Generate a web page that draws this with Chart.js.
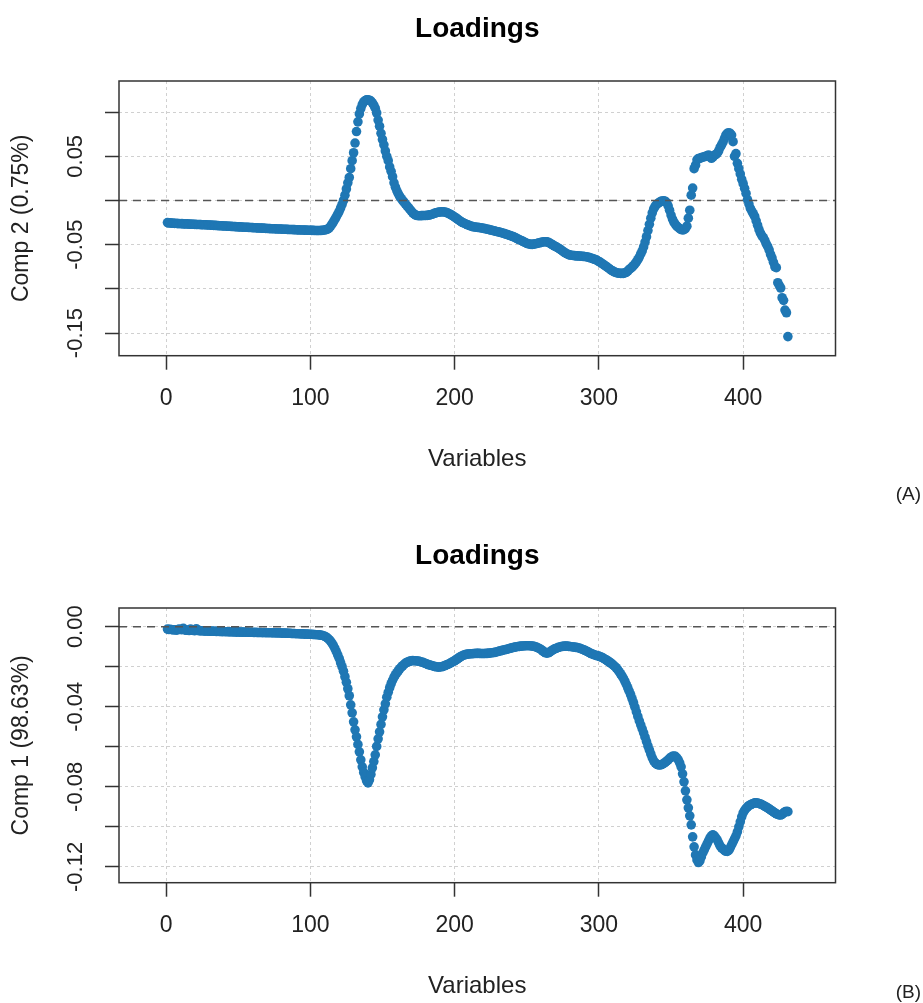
<!DOCTYPE html>
<html>
<head>
<meta charset="utf-8">
<script src="https://cdn.jsdelivr.net/npm/chart.js@4.4.0/dist/chart.umd.min.js"></script>
<style>
body { margin: 0; background: #fff; overflow: hidden; font-family: "Liberation Sans", Arial, sans-serif; }
.panel { position: absolute; left: 0; width: 923px; }
.tag { position: absolute; right: 2px; font-size: 19px; line-height: 22px; color: #222; }
</style>
</head>
<body>
<div class="panel" style="top:0;height:527px"><canvas id="chartA" width="923" height="527"></canvas></div>
<div class="tag" style="top:483px">(A)</div>
<div class="panel" style="top:527px;height:476px"><canvas id="chartB" width="923" height="476"></canvas></div>
<div class="tag" style="top:981px">(B)</div>
<script>
// loadings per variable (variable 1..431)
var comp2 = [
  -0.0250,-0.0255,-0.0252,-0.0258,-0.0256,-0.0260,-0.0258,-0.0262,-0.0260,-0.0263,
  -0.0262,-0.0265,-0.0264,-0.0266,-0.0265,-0.0268,-0.0267,-0.0269,-0.0268,-0.0270,
  -0.0271,-0.0272,-0.0271,-0.0273,-0.0274,-0.0275,-0.0274,-0.0276,-0.0277,-0.0278,
  -0.0279,-0.0280,-0.0281,-0.0282,-0.0283,-0.0284,-0.0285,-0.0286,-0.0287,-0.0288,
  -0.0289,-0.0290,-0.0291,-0.0292,-0.0293,-0.0294,-0.0295,-0.0296,-0.0297,-0.0298,
  -0.0299,-0.0300,-0.0301,-0.0302,-0.0302,-0.0303,-0.0304,-0.0305,-0.0306,-0.0307,
  -0.0308,-0.0309,-0.0310,-0.0311,-0.0312,-0.0313,-0.0313,-0.0314,-0.0315,-0.0316,
  -0.0317,-0.0318,-0.0319,-0.0319,-0.0320,-0.0321,-0.0322,-0.0322,-0.0323,-0.0324,
  -0.0325,-0.0325,-0.0326,-0.0327,-0.0328,-0.0328,-0.0329,-0.0330,-0.0330,-0.0331,
  -0.0332,-0.0332,-0.0333,-0.0334,-0.0334,-0.0335,-0.0335,-0.0336,-0.0337,-0.0337,
  -0.0338,-0.0338,-0.0339,-0.0340,-0.0340,-0.0340,-0.0339,-0.0338,-0.0336,-0.0333,
  -0.0330,-0.0325,-0.0312,-0.0292,-0.0268,-0.0242,-0.0214,-0.0185,-0.0155,-0.0122,
  -0.0085,-0.0045,0.0000,0.0060,0.0130,0.0200,0.0260,0.0360,0.0450,0.0540,
  0.0650,0.0780,0.0890,0.0980,0.1040,0.1085,0.1115,0.1130,0.1138,0.1140,
  0.1135,0.1125,0.1105,0.1080,0.1045,0.0990,0.0910,0.0840,0.0760,0.0690,
  0.0630,0.0560,0.0500,0.0450,0.0380,0.0330,0.0270,0.0200,0.0150,0.0110,
  0.0075,0.0045,0.0020,0.0000,-0.0020,-0.0040,-0.0060,-0.0080,-0.0100,-0.0120,
  -0.0140,-0.0155,-0.0165,-0.0170,-0.0172,-0.0172,-0.0171,-0.0170,-0.0170,-0.0169,
  -0.0168,-0.0166,-0.0163,-0.0158,-0.0152,-0.0146,-0.0140,-0.0135,-0.0132,-0.0130,
  -0.0128,-0.0128,-0.0130,-0.0134,-0.0140,-0.0148,-0.0157,-0.0166,-0.0176,-0.0186,
  -0.0198,-0.0210,-0.0222,-0.0234,-0.0244,-0.0252,-0.0260,-0.0268,-0.0275,-0.0282,
  -0.0288,-0.0293,-0.0297,-0.0300,-0.0302,-0.0304,-0.0306,-0.0309,-0.0312,-0.0315,
  -0.0318,-0.0322,-0.0326,-0.0330,-0.0334,-0.0338,-0.0342,-0.0346,-0.0350,-0.0354,
  -0.0358,-0.0362,-0.0367,-0.0372,-0.0377,-0.0382,-0.0388,-0.0394,-0.0400,-0.0406,
  -0.0412,-0.0420,-0.0428,-0.0436,-0.0444,-0.0452,-0.0460,-0.0468,-0.0476,-0.0484,
  -0.0490,-0.0494,-0.0496,-0.0496,-0.0494,-0.0490,-0.0486,-0.0482,-0.0478,-0.0474,
  -0.0470,-0.0467,-0.0466,-0.0468,-0.0474,-0.0482,-0.0492,-0.0502,-0.0512,-0.0521,
  -0.0530,-0.0540,-0.0550,-0.0562,-0.0574,-0.0586,-0.0596,-0.0605,-0.0612,-0.0617,
  -0.0620,-0.0622,-0.0624,-0.0626,-0.0627,-0.0628,-0.0629,-0.0630,-0.0632,-0.0634,
  -0.0636,-0.0639,-0.0643,-0.0648,-0.0653,-0.0659,-0.0665,-0.0671,-0.0680,-0.0690,
  -0.0700,-0.0711,-0.0722,-0.0733,-0.0745,-0.0757,-0.0769,-0.0781,-0.0792,-0.0802,
  -0.0810,-0.0816,-0.0820,-0.0823,-0.0825,-0.0825,-0.0824,-0.0820,-0.0812,-0.0800,
  -0.0780,-0.0768,-0.0754,-0.0738,-0.0718,-0.0695,-0.0670,-0.0640,-0.0605,-0.0570,
  -0.0525,-0.0470,-0.0410,-0.0340,-0.0270,-0.0200,-0.0140,-0.0095,-0.0065,-0.0045,
  -0.0032,-0.0020,-0.0010,-0.0005,-0.0004,-0.0008,-0.0025,-0.0060,-0.0110,-0.0165,
  -0.0210,-0.0245,-0.0270,-0.0290,-0.0305,-0.0318,-0.0328,-0.0332,-0.0330,-0.0318,
  -0.0290,-0.0200,-0.0110,0.0060,0.0140,0.0360,0.0400,0.0460,0.0475,0.0478,
  0.0485,0.0490,0.0495,0.0500,0.0505,0.0515,0.0500,0.0478,0.0490,0.0510,
  0.0520,0.0534,0.0560,0.0600,0.0628,0.0660,0.0700,0.0740,0.0760,0.0765,
  0.0760,0.0740,0.0665,0.0500,0.0530,0.0420,0.0360,0.0300,0.0240,0.0190,
  0.0138,0.0080,0.0010,-0.0040,-0.0090,-0.0120,-0.0150,-0.0180,-0.0230,-0.0280,
  -0.0330,-0.0370,-0.0400,-0.0420,-0.0450,-0.0490,-0.0520,-0.0560,-0.0610,-0.0650,
  -0.0700,-0.0750,-0.0760,-0.0930,-0.0960,-0.0990,-0.1100,-0.1130,-0.1240,-0.1270,-0.1540
];
var comp1 = [
  -0.0012,-0.0014,-0.0013,-0.0015,-0.0016,-0.0015,-0.0017,-0.0016,-0.0012,-0.0014,
  -0.0015,-0.0008,-0.0016,-0.0018,-0.0017,-0.0019,-0.0012,-0.0018,-0.0019,-0.0020,
  -0.0010,-0.0019,-0.0020,-0.0021,-0.0020,-0.0021,-0.0022,-0.0021,-0.0022,-0.0022,
  -0.0023,-0.0022,-0.0023,-0.0023,-0.0024,-0.0023,-0.0024,-0.0024,-0.0025,-0.0024,
  -0.0025,-0.0025,-0.0025,-0.0026,-0.0025,-0.0026,-0.0026,-0.0026,-0.0027,-0.0026,
  -0.0027,-0.0027,-0.0027,-0.0027,-0.0028,-0.0027,-0.0028,-0.0028,-0.0028,-0.0028,
  -0.0029,-0.0028,-0.0029,-0.0029,-0.0029,-0.0029,-0.0030,-0.0029,-0.0030,-0.0030,
  -0.0030,-0.0030,-0.0030,-0.0031,-0.0030,-0.0031,-0.0031,-0.0031,-0.0031,-0.0032,
  -0.0032,-0.0032,-0.0032,-0.0033,-0.0033,-0.0033,-0.0034,-0.0034,-0.0034,-0.0035,
  -0.0035,-0.0035,-0.0036,-0.0036,-0.0036,-0.0037,-0.0037,-0.0037,-0.0038,-0.0038,
  -0.0038,-0.0039,-0.0039,-0.0040,-0.0040,-0.0041,-0.0042,-0.0043,-0.0045,-0.0048,
  -0.0052,-0.0057,-0.0064,-0.0072,-0.0082,-0.0094,-0.0108,-0.0124,-0.0141,-0.0158,
  -0.0180,-0.0200,-0.0222,-0.0250,-0.0278,-0.0310,-0.0345,-0.0390,-0.0430,-0.0475,
  -0.0515,-0.0550,-0.0588,-0.0625,-0.0665,-0.0700,-0.0728,-0.0750,-0.0770,-0.0780,
  -0.0765,-0.0738,-0.0705,-0.0674,-0.0640,-0.0598,-0.0560,-0.0525,-0.0488,-0.0450,
  -0.0415,-0.0385,-0.0352,-0.0328,-0.0305,-0.0285,-0.0268,-0.0252,-0.0240,-0.0230,
  -0.0220,-0.0210,-0.0202,-0.0195,-0.0188,-0.0182,-0.0178,-0.0175,-0.0172,-0.0170,
  -0.0169,-0.0170,-0.0170,-0.0171,-0.0172,-0.0174,-0.0176,-0.0178,-0.0181,-0.0184,
  -0.0187,-0.0190,-0.0192,-0.0194,-0.0196,-0.0198,-0.0200,-0.0201,-0.0202,-0.0201,
  -0.0200,-0.0198,-0.0195,-0.0192,-0.0189,-0.0186,-0.0182,-0.0178,-0.0174,-0.0170,
  -0.0165,-0.0160,-0.0155,-0.0150,-0.0146,-0.0143,-0.0140,-0.0138,-0.0137,-0.0136,
  -0.0135,-0.0135,-0.0134,-0.0134,-0.0133,-0.0133,-0.0133,-0.0134,-0.0134,-0.0134,
  -0.0134,-0.0133,-0.0133,-0.0132,-0.0131,-0.0130,-0.0129,-0.0128,-0.0126,-0.0124,
  -0.0122,-0.0120,-0.0118,-0.0116,-0.0115,-0.0113,-0.0111,-0.0109,-0.0107,-0.0105,
  -0.0103,-0.0102,-0.0100,-0.0099,-0.0098,-0.0097,-0.0096,-0.0096,-0.0095,-0.0095,
  -0.0095,-0.0095,-0.0096,-0.0097,-0.0098,-0.0100,-0.0103,-0.0106,-0.0110,-0.0115,
  -0.0120,-0.0126,-0.0130,-0.0132,-0.0130,-0.0126,-0.0121,-0.0116,-0.0112,-0.0109,
  -0.0106,-0.0103,-0.0101,-0.0099,-0.0098,-0.0097,-0.0097,-0.0097,-0.0098,-0.0099,
  -0.0100,-0.0101,-0.0102,-0.0103,-0.0104,-0.0106,-0.0108,-0.0111,-0.0114,-0.0117,
  -0.0120,-0.0124,-0.0128,-0.0132,-0.0135,-0.0138,-0.0141,-0.0143,-0.0145,-0.0147,
  -0.0150,-0.0153,-0.0157,-0.0161,-0.0165,-0.0170,-0.0175,-0.0180,-0.0186,-0.0192,
  -0.0198,-0.0205,-0.0214,-0.0224,-0.0235,-0.0246,-0.0258,-0.0272,-0.0288,-0.0305,
  -0.0322,-0.0340,-0.0360,-0.0380,-0.0402,-0.0425,-0.0448,-0.0470,-0.0490,-0.0510,
  -0.0530,-0.0552,-0.0574,-0.0596,-0.0616,-0.0636,-0.0655,-0.0670,-0.0680,-0.0686,
  -0.0690,-0.0691,-0.0690,-0.0687,-0.0683,-0.0678,-0.0672,-0.0665,-0.0658,-0.0652,
  -0.0648,-0.0646,-0.0648,-0.0655,-0.0665,-0.0680,-0.0700,-0.0735,-0.0775,-0.0820,
  -0.0865,-0.0905,-0.0945,-0.0990,-0.1050,-0.1100,-0.1140,-0.1165,-0.1178,-0.1170,
  -0.1150,-0.1130,-0.1115,-0.1100,-0.1085,-0.1070,-0.1055,-0.1045,-0.1040,-0.1045,
  -0.1055,-0.1065,-0.1080,-0.1095,-0.1105,-0.1110,-0.1118,-0.1122,-0.1123,-0.1118,
  -0.1105,-0.1090,-0.1075,-0.1060,-0.1045,-0.1025,-0.1000,-0.0975,-0.0950,-0.0930,
  -0.0918,-0.0908,-0.0900,-0.0894,-0.0890,-0.0886,-0.0883,-0.0880,-0.0880,-0.0881,
  -0.0883,-0.0886,-0.0889,-0.0893,-0.0897,-0.0901,-0.0905,-0.0910,-0.0915,-0.0920,
  -0.0925,-0.0930,-0.0935,-0.0938,-0.0940,-0.0941,-0.0938,-0.0930,-0.0925,-0.0922,-0.0924
];

var xTicks = [0, 100, 200, 300, 400];
var yTicksA = [0.1, 0.05, 0, -0.05, -0.1, -0.15];
var yLabelsA = ['', '0.05', '', '-0.05', '', '-0.15'];
var yTicksB = [0, -0.02, -0.04, -0.06, -0.08, -0.1, -0.12];
var yLabelsB = ['0.00', '', '-0.04', '', '-0.08', '', '-0.12'];

Chart.defaults.font.family = "'Liberation Sans', Arial, sans-serif";
Chart.defaults.color = '#222';

// box around the plot + dashed line at zero (drawn over the points, like abline)
var frame = {
    id: 'frame',
    afterDatasetsDraw: function(chart) {
        var ctx = chart.ctx, a = chart.chartArea;
        var y0 = chart.scales.y.getPixelForValue(0);
        ctx.save();
        ctx.lineWidth = 1.5;
        ctx.strokeStyle = '#555';
        ctx.setLineDash([8, 6]);
        ctx.beginPath();
        ctx.moveTo(a.left, y0);
        ctx.lineTo(a.right, y0);
        ctx.stroke();
        ctx.setLineDash([]);
        ctx.strokeStyle = '#333';
        ctx.strokeRect(a.left, a.top, a.right - a.left, a.bottom - a.top);
        ctx.restore();
    }
};

function makeChart(id, values, yTicks, yLabels, yMin, yMax, yTitle, padBottom) {
    var points = values.map(function(v, i) { return {x: i + 1, y: v}; });
    var grid = {color: '#d0d0d0', lineWidth: 1, tickLength: 14, tickColor: '#333', tickWidth: 1.5};
    return new Chart(document.getElementById(id), {
        type: 'scatter',
        data: {
            datasets: [{
                data: points,
                backgroundColor: '#1f77b4',
                borderWidth: 0,
                pointRadius: 4.8,
                pointHoverRadius: 4.8
            }]
        },
        options: {
            responsive: false,
            animation: false,
            layout: {padding: {left: 0, right: 87.5, top: 0, bottom: padBottom}},
            plugins: {
                legend: {display: false},
                tooltip: {enabled: false},
                title: {
                    display: true,
                    text: 'Loadings',
                    fullSize: false,
                    color: '#000',
                    font: {size: 28, weight: 'bold'},
                    padding: {top: 12.2, bottom: 35.2}
                }
            },
            scales: {
                x: {
                    type: 'linear',
                    min: -32.6,
                    max: 464,
                    afterBuildTicks: function(s) { s.ticks = xTicks.map(function(v) { return {value: v}; }); },
                    afterFit: function(s) { s.height = 118; },
                    grid: grid,
                    border: {display: false, dash: [3, 3]},
                    ticks: {autoSkip: false, maxRotation: 0, padding: 15, font: {size: 23}, color: '#222'},
                    title: {display: true, text: 'Variables', font: {size: 24}, color: '#222', padding: 0}
                },
                y: {
                    min: yMin,
                    max: yMax,
                    afterBuildTicks: function(s) { s.ticks = yTicks.map(function(v) { return {value: v}; }); },
                    afterFit: function(s) { s.width = 119; },
                    grid: grid,
                    border: {display: false, dash: [3, 3]},
                    ticks: {
                        autoSkip: false, minRotation: 90, maxRotation: 90, crossAlign: 'center',
                        padding: 4, font: {size: 22}, color: '#222',
                        callback: function(v, i) { return yLabels[i]; }
                    },
                    title: {display: true, text: yTitle, font: {size: 23}, color: '#222', padding: {top: 8, bottom: 0}}
                }
            }
        },
        plugins: [frame]
    });
}

makeChart('chartA', comp2, yTicksA, yLabelsA, -0.1756, 0.1352, 'Comp 2 (0.75%)', 53.3);
makeChart('chartB', comp1, yTicksB, yLabelsB, -0.1279, 0.00935, 'Comp 1 (98.63%)', 2.3);
</script>
</body>
</html>
